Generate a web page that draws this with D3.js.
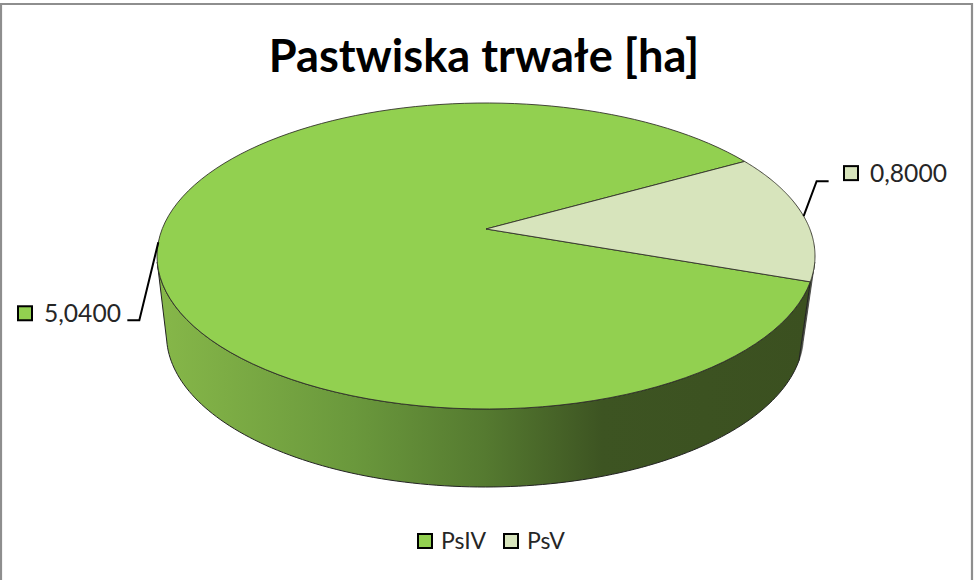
<!DOCTYPE html>
<html><head><meta charset="utf-8">
<style>html,body{margin:0;padding:0;background:#fff}svg{display:block}text{font-family:Lato,"Open Sans",sans-serif}</style>
<script src="https://cdn.jsdelivr.net/npm/d3@7"></script></head>
<body><svg id="c" width="975" height="580"></svg>
<script>
const categories = ["PsIV", "PsV"];
const values = [5.04, 0.8];
const valueLabels = ["5,0400", "0,8000"];
const colors = ["#92D050", "#D7E4BC"];
const titleText = "Pastwiska trwałe [ha]";

const svg = d3.select("#c");
const rad = d => d * Math.PI / 180;
const color = d3.scaleOrdinal(categories, colors);

// Frame
svg.append("path").attr("d", "M1,580V4H972V580").attr("fill", "#fff").attr("stroke", "#8e8e8e").attr("stroke-width", 2.2);

// Pie layout, tilted in perspective
const startDeg = 109.6;
const arcs = d3.pie().sort(null).startAngle(rad(startDeg)).endAngle(rad(startDeg + 360))(values);
const persp = 0.1765;
const topFace = {cx: 486, cy: 256, rx: 329, ry: 153};
const botFace = {cx: 485, cy: 335, rx: 318.5, ry: 152};
function project(f, t) {
  const u = Math.sin(t), v = Math.cos(t), w = 1 + persp * v;
  return [f.cx + f.rx * Math.sqrt(1 - persp * persp) * u / w,
          ((persp * f.cy - f.ry) * v + f.cy - persp * f.ry) / w];
}
const apex = f => [f.cx, f.cy - persp * f.ry];
const line = d3.line();
const rim = (f, a, b) => d3.range(0, 121).map(i => project(f, a + (b - a) * i / 120));

// Side wall
const defs = svg.append("defs");
const grad = defs.append("linearGradient").attr("id", "wall").attr("gradientUnits", "userSpaceOnUse")
  .attr("x1", 160).attr("x2", 810).attr("y1", 0).attr("y2", 0);
[[0, "#86b749"], [0.3, "#6a983c"], [0.5, "#557a30"], [0.68, "#3d5422"], [1, "#3b5020"]].forEach(s =>
  grad.append("stop").attr("offset", s[0]).attr("stop-color", s[1]));

const silR = rad(102.4), silL = rad(257.6), seam = rad(startDeg);
const wall = (a, b) => line(rim(topFace, a, b).concat(rim(botFace, b, a))) + "Z";
svg.append("path").attr("d", wall(silR, seam)).attr("fill", "#58604a").attr("stroke", "#333").attr("stroke-width", 0.8);
svg.append("path").attr("d", wall(seam, silL)).attr("fill", "url(#wall)").attr("stroke", "#222").attr("stroke-width", 1);

// Top face slices
svg.selectAll("path.slice").data(arcs).join("path").attr("class", "slice")
  .attr("d", d => line([apex(topFace)].concat(rim(topFace, d.startAngle, d.endAngle))) + "Z")
  .attr("fill", (d, i) => color(categories[i]))
  .attr("stroke", "#33332a").attr("stroke-width", 0.9).attr("stroke-linejoin", "round");

// Leaders and data labels
const leaderOffsets = [[[-19, 78], [-31, 78]], [[13, -35], [25, -35]]];
const labelSpecs = [{sw: 17, tx: 44}, {sw: 843, tx: 870}];
arcs.forEach((d, i) => {
  const p = project(topFace, (d.startAngle + d.endAngle) / 2);
  const pts = [p].concat(leaderOffsets[i].map(o => [p[0] + o[0], p[1] + o[1]]));
  svg.append("path").attr("d", line(pts)).attr("fill", "none").attr("stroke", "#000").attr("stroke-width", 2);
  const y = pts[2][1] - (i === 1 ? 8 : 7);
  svg.append("rect").attr("x", labelSpecs[i].sw + 1).attr("y", y - 7).attr("width", 14).attr("height", 14)
    .attr("fill", color(categories[i])).attr("stroke", "#000").attr("stroke-width", 2);
  svg.append("text").attr("x", labelSpecs[i].tx).attr("y", y + 9).attr("font-size", 24.6).attr("fill", "#262626")
    .text(valueLabels[i]);
});

// Title
svg.append("text").attr("x", 484).attr("y", 72).attr("text-anchor", "middle")
  .attr("font-size", 45.2).attr("font-weight", 700).attr("fill", "#000").text(titleText);

// Legend
const legendX = d3.scaleOrdinal(categories, [417, 503]);
const lg = svg.selectAll("g.lg").data(categories).join("g").attr("class", "lg")
  .attr("transform", d => `translate(${legendX(d)},541)`);
lg.append("rect").attr("x", 1).attr("y", -7).attr("width", 14).attr("height", 14)
  .attr("fill", d => color(d)).attr("stroke", "#000").attr("stroke-width", 2);
lg.append("text").attr("x", 24).attr("y", 8).attr("font-size", 23).attr("fill", "#262626").text(d => d);
</script></body></html>
